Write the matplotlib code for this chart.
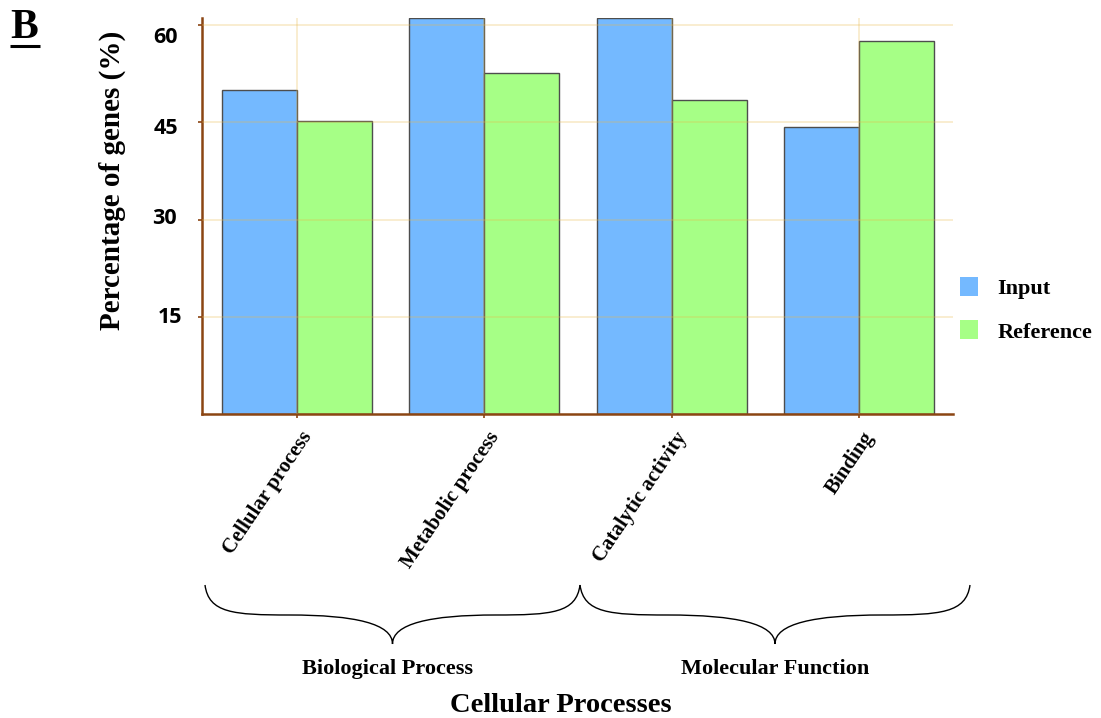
import numpy as np
import matplotlib
matplotlib.use("Agg")
import matplotlib.pyplot as plt
from matplotlib.path import Path
from matplotlib.patches import PathPatch, Patch

categories = ["Cellular process", "Metabolic process", "Catalytic activity", "Binding"]
input_vals = [50.0, 61.1, 61.1, 44.3]
reference_vals = [45.2, 52.6, 48.5, 57.5]
yticks = [15, 30, 45, 60]
groups = ["Biological Process", "Molecular Function"]
series_names = ["Input", "Reference"]

SERIF = "Liberation Serif"
C_IN = "#74b9ff"
C_REF = "#a6ff86"
BROWN = "#8B4513"
PX = 0.72  # points per pixel at dpi 100

W, H = 1101, 718
fig = plt.figure(figsize=(W / 100, H / 100), dpi=100)
ax = fig.add_axes([202 / W, (H - 414) / H, (952.75 - 202) / W, (414 - 18) / H])

x = np.arange(len(categories))
bw = 0.4
ax.bar(x - bw / 2, input_vals, bw, color=C_IN, edgecolor="#4d4d4d", linewidth=1.0, zorder=1)
ax.bar(x + bw / 2, reference_vals, bw, color=C_REF, edgecolor="#4d4d4d", linewidth=1.0, zorder=1)

ax.set_xlim(-0.507, 3.5)
ax.set_ylim(0, 61.1)
ax.set_yticks(yticks)
ax.set_yticklabels([])
ax.set_xticks(x)
ax.set_xticklabels([])

# y tick labels: the original's labels sit slightly off their ticks (dx, dy-down in px)
label_offsets = [(4, 0.5), (-1, -0.6), (0, 6.0), (0, 12.5)]
for v, (dx, dy) in zip(yticks, label_offsets):
    ax.annotate(str(v), xy=(0, v), xycoords=("axes fraction", "data"),
                xytext=((-24 + dx) * PX, -dy * PX), textcoords="offset points",
                ha="right", va="center", fontfamily="Open Sans", fontweight="bold", fontsize=15.5,
                annotation_clip=False)

# x tick labels, rotated
for xi, cat in zip(x, categories):
    ax.annotate(cat, xy=(xi, 0), xycoords=("data", "axes fraction"),
                xytext=(3 * PX, -14 * PX), textcoords="offset points",
                ha="right", va="top", rotation=56, rotation_mode="anchor",
                fontfamily=SERIF, fontweight="bold", fontsize=15, annotation_clip=False)

ax.set_axisbelow(False)
ax.grid(True, color="#e8b84a", alpha=0.3, linewidth=1.2)
for s in ["top", "right"]:
    ax.spines[s].set_visible(False)
for s in ["left", "bottom"]:
    ax.spines[s].set_color(BROWN)
    ax.spines[s].set_linewidth(1.8)
ax.tick_params(axis="both", color=BROWN, length=3, width=1.2)

# overlay in pixel coords
oax = fig.add_axes([0, 0, 1, 1], facecolor="none")
oax.set_xlim(0, W)
oax.set_ylim(H, 0)
oax.axis("off")

oax.text(10, 38, "B", fontfamily=SERIF, fontweight="bold", fontsize=30, ha="left", va="baseline")
oax.plot([10, 40], [45.5, 45.5], color="black", lw=2.2, solid_capstyle="butt")

oax.text(112, 180, "Percentage of genes (%)", fontfamily=SERIF, fontweight="bold", fontsize=21,
         rotation=90, ha="center", va="center")


def brace(x0, x1, ytop, ymid, ybot):
    xc = (x0 + x1) / 2
    w = xc - x0
    verts = [
        (x0, ytop), (x0 + 0.02 * w, ymid - 2), (x0 + 0.15 * w, ymid), (x0 + 0.45 * w, ymid),
        (x0 + 0.8 * w, ymid), (xc, ymid + 0.3 * (ybot - ymid)), (xc, ybot),
        (xc, ymid + 0.3 * (ybot - ymid)), (x1 - 0.8 * w, ymid), (x1 - 0.45 * w, ymid),
        (x1 - 0.15 * w, ymid), (x1 - 0.02 * w, ymid - 2), (x1, ytop),
    ]
    codes = [Path.MOVETO] + [Path.CURVE4] * 12
    oax.add_patch(PathPatch(Path(verts, codes), fill=False, edgecolor="black", lw=1.0))


brace(205, 580, 585, 615, 644)
brace(580, 970, 585, 615, 644)
oax.text(387, 669, groups[0], fontfamily=SERIF, fontweight="bold", fontsize=16, ha="center", va="center")
oax.text(775, 669, groups[1], fontfamily=SERIF, fontweight="bold", fontsize=16, ha="center", va="center")
oax.text(561, 705, "Cellular Processes", fontfamily=SERIF, fontweight="bold", fontsize=20.5,
         ha="center", va="center")

handles = [Patch(facecolor=C_IN, edgecolor="none"), Patch(facecolor=C_REF, edgecolor="none")]
leg = fig.legend(handles, series_names, loc="upper left", bbox_to_anchor=(960 / W, 1 - 277 / H),
                 frameon=False, borderpad=0, borderaxespad=0, handlelength=0.82, handleheight=0.95,
                 handletextpad=0.85, labelspacing=0.95,
                 prop={"family": SERIF, "weight": "bold", "size": 16})

fig.savefig("out.png", dpi=100)
